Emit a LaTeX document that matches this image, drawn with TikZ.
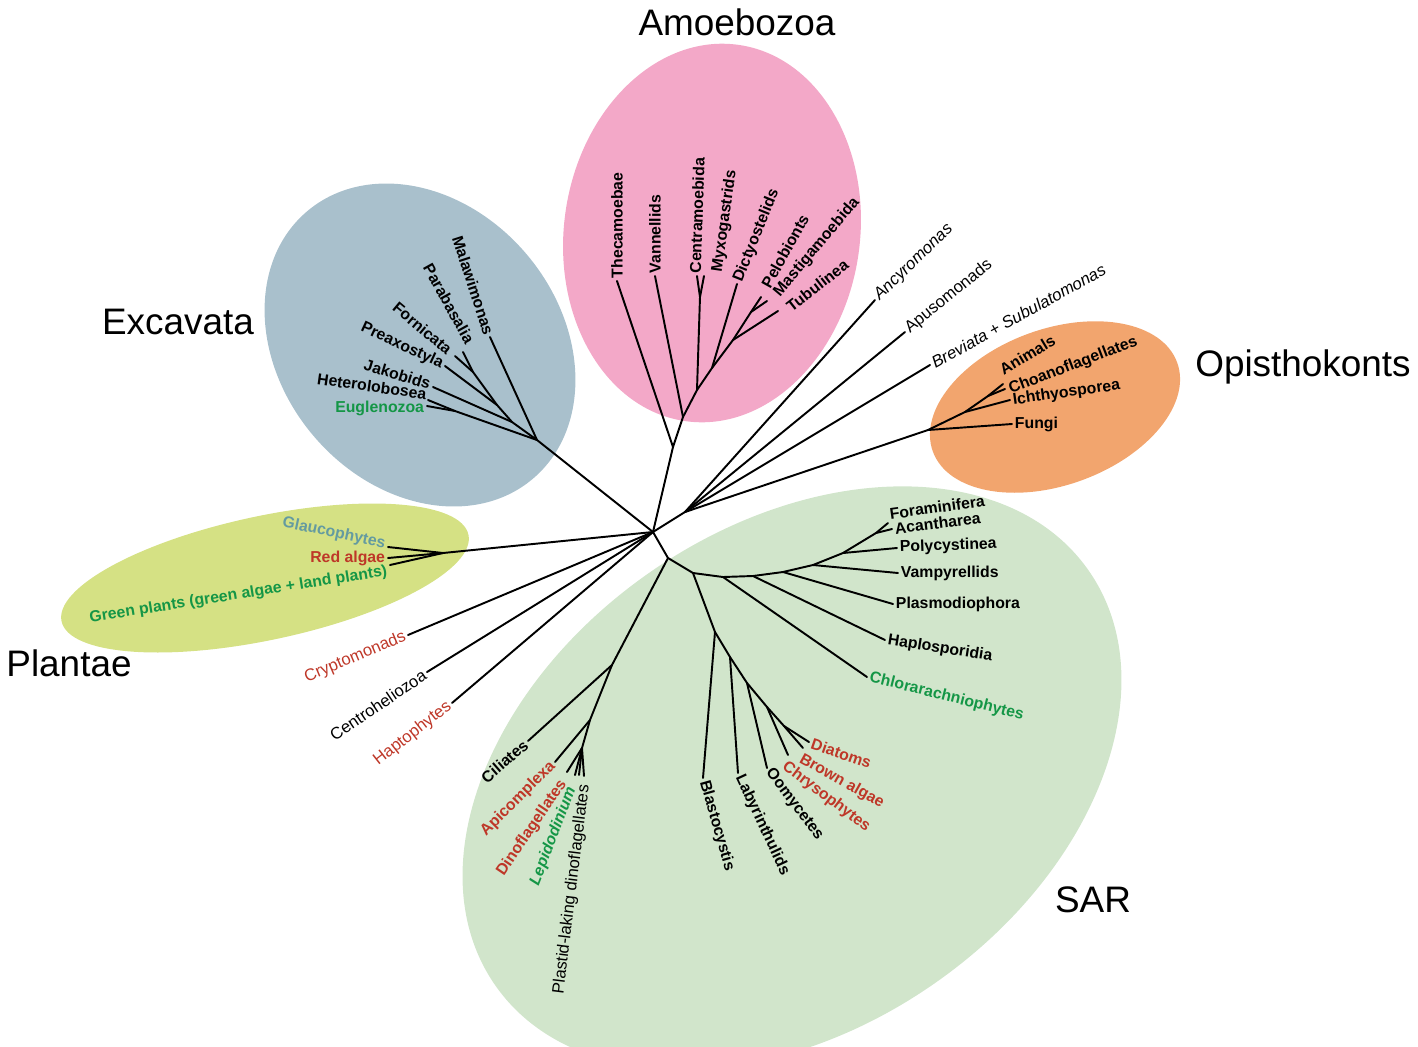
\documentclass[tikz,border=0pt]{standalone}
\usepackage{fontspec}
\setmainfont{Liberation Sans}

\definecolor{exc}{RGB}{169,192,204}
\definecolor{amo}{RGB}{243,168,200}
\definecolor{opi}{RGB}{242,165,110}
\definecolor{pla}{RGB}{213,225,132}
\definecolor{sar}{RGB}{209,229,203}
\definecolor{tred}{RGB}{190,55,40}
\definecolor{tgrn}{RGB}{20,150,70}
\definecolor{tgla}{RGB}{100,155,160}

\tikzset{
 lbW/.style={anchor=west, inner sep=1.5pt, font=\fontsize{9}{10}\selectfont\bfseries},
 lbE/.style={anchor=east, inner sep=1.5pt, font=\fontsize{9}{10}\selectfont\bfseries},
 nb/.style={font=\fontsize{9.5}{10}\selectfont},
 grp/.style={font=\fontsize{21}{24}\selectfont},
 br/.style={line width=1.1pt, line cap=round}
}

\begin{document}
\begin{tikzpicture}[x=0.02cm, y=-0.02cm]
 \useasboundingbox (0,0) rectangle (1418,1046);

 % 背景の楕円
 \fill [sar, rotate around={35:(792,778)}] (792,778) ellipse [x radius=362, y radius=250];
 \fill [exc, rotate around={-50:(420,345)}] (420,345) ellipse [x radius=175, y radius=140];
 \fill [amo, rotate around={82:(712,233)}] (712,233) ellipse [x radius=190, y radius=148];
 \fill [opi, rotate around={20:(1055,407)}] (1055,407) ellipse [x radius=130, y radius=78];
 \fill [pla, rotate around={12:(265,578)}] (265,578) ellipse [x radius=208, y radius=62];

 % グループ名
 \node [grp] (gAmo) at (737,22) {Amoebozoa};
 \node [grp] (gExc) at (178,322) {Excavata};
 \node [grp] (gOpi) at (1303,367) {Opisthokonts};
 \node [grp] (gPla) at (69,663) {Plantae};
 \node [grp] (gSar) at (1093,900) {SAR};

 \coordinate (O) at (653,532); % 中心

 % Excavata
 \coordinate (E0) at (537,440);
 \coordinate (E1) at (512,422);
 \coordinate (E2) at (497,405);
 \coordinate (PF) at (473,372);
 \coordinate (HE) at (455,411);
 \coordinate (Mal) at (490,337) node (tMal) at (Mal) [lbE, rotate=-72] {Malawimonas};
 \coordinate (Par) at (463,352) node (tPar) at ([shift={(1,-3)}]Par) [lbE, anchor=south east, rotate=-61] {Parabasalia};
 \coordinate (For) at (455,356) node (tFor) at ([shift={(-3,-3)}]For) [lbE, rotate=-40] {Fornicata};
 \coordinate (Pre) at (445,366) node (tPre) at (Pre) [lbE, rotate=-25] {Preaxostyla};
 \coordinate (Jak) at (433,387) node (tJak) at ([shift={(0,-2)}]Jak) [lbE, rotate=-17] {Jakobids};
 \coordinate (Het) at (428,400) node (tHet) at ([shift={(0,3)}]Het) [lbE, anchor=south east, rotate=-8] {Heterolobosea};
 \coordinate (Eug) at (427,406) node (tEug) at ([shift={(0,2)}]Eug) [lbE, tgrn] {Euglenozoa};

 % Amoebozoa
 \coordinate (A0) at (673,447);
 \coordinate (A1) at (683,417);
 \coordinate (A2) at (697,390);
 \coordinate (A3) at (712,368);
 \coordinate (A4) at (733,340);
 \coordinate (A5) at (751,312);
 \coordinate (CM) at (700,297);
 \coordinate (The) at (617,281) node (tThe) at (The) [lbW, rotate=90] {Thecamoebae};
 \coordinate (Van) at (655,276) node (tVan) at (Van) [lbW, rotate=90] {Vannellids};
 \coordinate (Cen) at (697,276) node (tCen) at ([shift={(-2,0)}]Cen) [lbW, rotate=88] {Centramoebida};
 \coordinate (Myx) at (704,276) node (tMyx) at ([shift={(3,-3)}]Myx) [lbW, anchor=north west, rotate=82] {Myxogastrids};
 \coordinate (Dic) at (737,284) node (tDic) at (Dic) [lbW, rotate=68] {Dictyostelids};
 \coordinate (Pel) at (761,297) node (tPel) at ([shift={(3,-8)}]Pel) [lbW, rotate=61] {Pelobionts};
 \coordinate (Mas) at (767,301) node (tMas) at ([shift={(8,-4)}]Mas) [lbW, rotate=50] {Mastigamoebida};
 \coordinate (Tub) at (778,311) node (tTub) at ([shift={(8,-1)}]Tub) [lbW, rotate=38] {Tubulinea};

 % 右上の枝
 \coordinate (U) at (685,512);
 \coordinate (Anc) at (875,300) node (tAnc) at (Anc) [lbW, nb, rotate=44] {\itshape Ancyromonas};
 \coordinate (Apu) at (905,332) node (tApu) at (Apu) [lbW, nb, rotate=39] {Apusomonads};
 \coordinate (Bre) at (930,365) node (tBre) at (Bre) [lbW, nb, rotate=29] {\textit{Breviata} + \textit{Subulatomonas}};

 % Opisthokonts
 \coordinate (Op0) at (928,430);
 \coordinate (Op1) at (965,412);
 \coordinate (Op2) at (988,396);
 \coordinate (Ani) at (1003,384) node (tAni) at ([shift={(0,-4)}]Ani) [lbW, anchor=south west, rotate=31] {Animals};
 \coordinate (Cho) at (1005,389) node (tCho) at ([shift={(2,2)}]Cho) [lbW, rotate=21] {Choanoflagellates};
 \coordinate (Ich) at (1010,400) node (tIch) at ([shift={(0,1)}]Ich) [lbW, rotate=8] {Ichthyosporea};
 \coordinate (Fun) at (1012,424) node (tFun) at (Fun) [lbW] {Fungi};

 % Plantae
 \coordinate (P0) at (443,553);
 \coordinate (Gla) at (388,547) node (tGla) at ([shift={(0,-2)}]Gla) [lbE, tgla, rotate=-12] {Glaucophytes};
 \coordinate (Red) at (388,558) node (tRed) at (Red) [lbE, tred] {Red algae};
 \coordinate (Gre) at (390,565) node (tGre) at ([shift={(0,6)}]Gre) [lbE, tgrn, rotate=9] {Green plants (green algae + land plants)};

 % 左下の枝
 \coordinate (Cry) at (408,635) node (tCry) at (Cry) [lbE, nb, tred, rotate=23] {Cryptomonads};
 \coordinate (Chz) at (427,672) node (tChz) at (Chz) [lbE, nb, rotate=34] {Centroheliozoa};
 \coordinate (Hap) at (452,703) node (tHap) at (Hap) [lbE, nb, tred, rotate=38] {Haptophytes};

 % SAR
 \coordinate (S0) at (668,558);
 \coordinate (S1) at (693,573);

 % Rhizaria
 \coordinate (R1) at (723,577);
 \coordinate (R2) at (753,576);
 \coordinate (R3) at (783,572);
 \coordinate (R4) at (813,565);
 \coordinate (R5) at (843,553);
 \coordinate (R6) at (876,533);
 \coordinate (Fora) at (888,523) node (tFora) at (Fora) [lbW, anchor=south west, rotate=8] {Foraminifera};
 \coordinate (Aca) at (892,529) node (tAca) at (Aca) [lbW, rotate=7] {Acantharea};
 \coordinate (Pol) at (897,548) node (tPol) at (Pol) [lbW, rotate=2] {Polycystinea};
 \coordinate (Vam) at (898,573) node (tVam) at (Vam) [lbW] {Vampyrellids};
 \coordinate (Pls) at (893,604) node (tPls) at (Pls) [lbW] {Plasmodiophora};
 \coordinate (Hpl) at (885,640) node (tHpl) at (Hpl) [lbW, rotate=-9] {Haplosporidia};
 \coordinate (Chl) at (867,677) node (tChl) at (Chl) [lbW, tgrn, rotate=-14] {Chlorarachniophytes};

 % Stramenopiles
 \coordinate (St1) at (715,632);
 \coordinate (St2) at (730,657);
 \coordinate (St3) at (747,683);
 \coordinate (St4) at (767,707);
 \coordinate (St5) at (784,726);
 \coordinate (Bla) at (703,778) node (tBla) at (Bla) [lbW, rotate=-74] {Blastocystis};
 \coordinate (Lab) at (738,773) node (tLab) at (Lab) [lbW, rotate=-65] {Labyrinthulids};
 \coordinate (Oom) at (767,768) node (tOom) at (Oom) [lbW, rotate=-53] {Oomycetes};
 \coordinate (Chr) at (788,755) node (tChr) at (Chr) [lbW, anchor=north west, tred, rotate=-37] {Chrysophytes};
 \coordinate (Bro) at (803,748) node (tBro) at (Bro) [lbW, anchor=north west, tred, rotate=-29] {Brown algae};
 \coordinate (Dia) at (809,742) node (tDia) at (Dia) [lbW, tred, rotate=-19] {Diatoms};

 % Alveolates
 \coordinate (Al1) at (612,665);
 \coordinate (Al2) at (590,720);
 \coordinate (Dn) at (582,748);
 \coordinate (Cil) at (528,741) node (tCil) at (Cil) [lbE, rotate=41] {Ciliates};
 \coordinate (Api) at (555,762) node (tApi) at (Api) [lbE, tred, rotate=45] {Apicomplexa};
 \coordinate (Din) at (567,772) node (tDin) at ([shift={(-2,7)}]Din) [lbE, tred, rotate=56] {Dinoflagellates};
 \coordinate (Lep) at (575,775) node (tLep) at ([shift={(-2,10)}]Lep) [lbE, tgrn, rotate=69] {\itshape Lepidodinium};
 \coordinate (Dn4) at (579,775);
 \coordinate (Pla) at (584,776) node (tPla) at ([shift={(1,6)}]Pla) [lbE, nb, rotate=83] {Plastid-laking dinoflagellates};

 % 枝
 \draw [br] (O) -- (E0) -- (Mal);
 \draw [br] (E0) -- (E1) -- (E2) -- (PF) -- (Par);
 \draw [br] (PF) -- (For);
 \draw [br] (E2) -- (Pre);
 \draw [br] (E1) -- (Jak);
 \draw [br] (E0) -- (HE) -- (Het);
 \draw [br] (HE) -- (Eug);

 \draw [br] (O) -- (A0) -- (The);
 \draw [br] (A0) -- (A1) -- (Van);
 \draw [br] (A1) -- (A2) -- (CM) -- (Cen);
 \draw [br] (CM) -- (Myx);
 \draw [br] (A2) -- (A3) -- (Dic);
 \draw [br] (A3) -- (A4) -- (Tub);
 \draw [br] (A4) -- (A5) -- (Pel);
 \draw [br] (A5) -- (Mas);

 \draw [br] (O) -- (U) -- (Anc);
 \draw [br] (U) -- (Apu);
 \draw [br] (U) -- (Bre);
 \draw [br] (U) -- (Op0) -- (Fun);
 \draw [br] (Op0) -- (Op1) -- (Ich);
 \draw [br] (Op1) -- (Op2) -- (Cho);
 \draw [br] (Op2) -- (Ani);

 \draw [br] (O) -- (P0) -- (Gla);
 \draw [br] (P0) -- (Red);
 \draw [br] (P0) -- (Gre);

 \draw [br] (O) -- (Cry);
 \draw [br] (O) -- (Chz);
 \draw [br] (O) -- (Hap);

 \draw [br] (O) -- (S0) -- (S1) -- (R1) -- (R2) -- (R3) -- (R4) -- (R5) -- (R6) -- (Fora);
 \draw [br] (R6) -- (Aca);
 \draw [br] (R5) -- (Pol);
 \draw [br] (R4) -- (Vam);
 \draw [br] (R3) -- (Pls);
 \draw [br] (R2) -- (Hpl);
 \draw [br] (R1) -- (Chl);

 \draw [br] (S1) -- (St1) -- (Bla);
 \draw [br] (St1) -- (St2) -- (Lab);
 \draw [br] (St2) -- (St3) -- (Oom);
 \draw [br] (St3) -- (St4) -- (Chr);
 \draw [br] (St4) -- (St5) -- (Bro);
 \draw [br] (St5) -- (Dia);

 \draw [br] (S0) -- (Al1) -- (Cil);
 \draw [br] (Al1) -- (Al2) -- (Api);
 \draw [br] (Al2) -- (Dn) -- (Din);
 \draw [br] (Dn) -- (Lep);
 \draw [br] (Dn) -- (Dn4);
 \draw [br] (Dn) -- (Pla);
\end{tikzpicture}
\end{document}
